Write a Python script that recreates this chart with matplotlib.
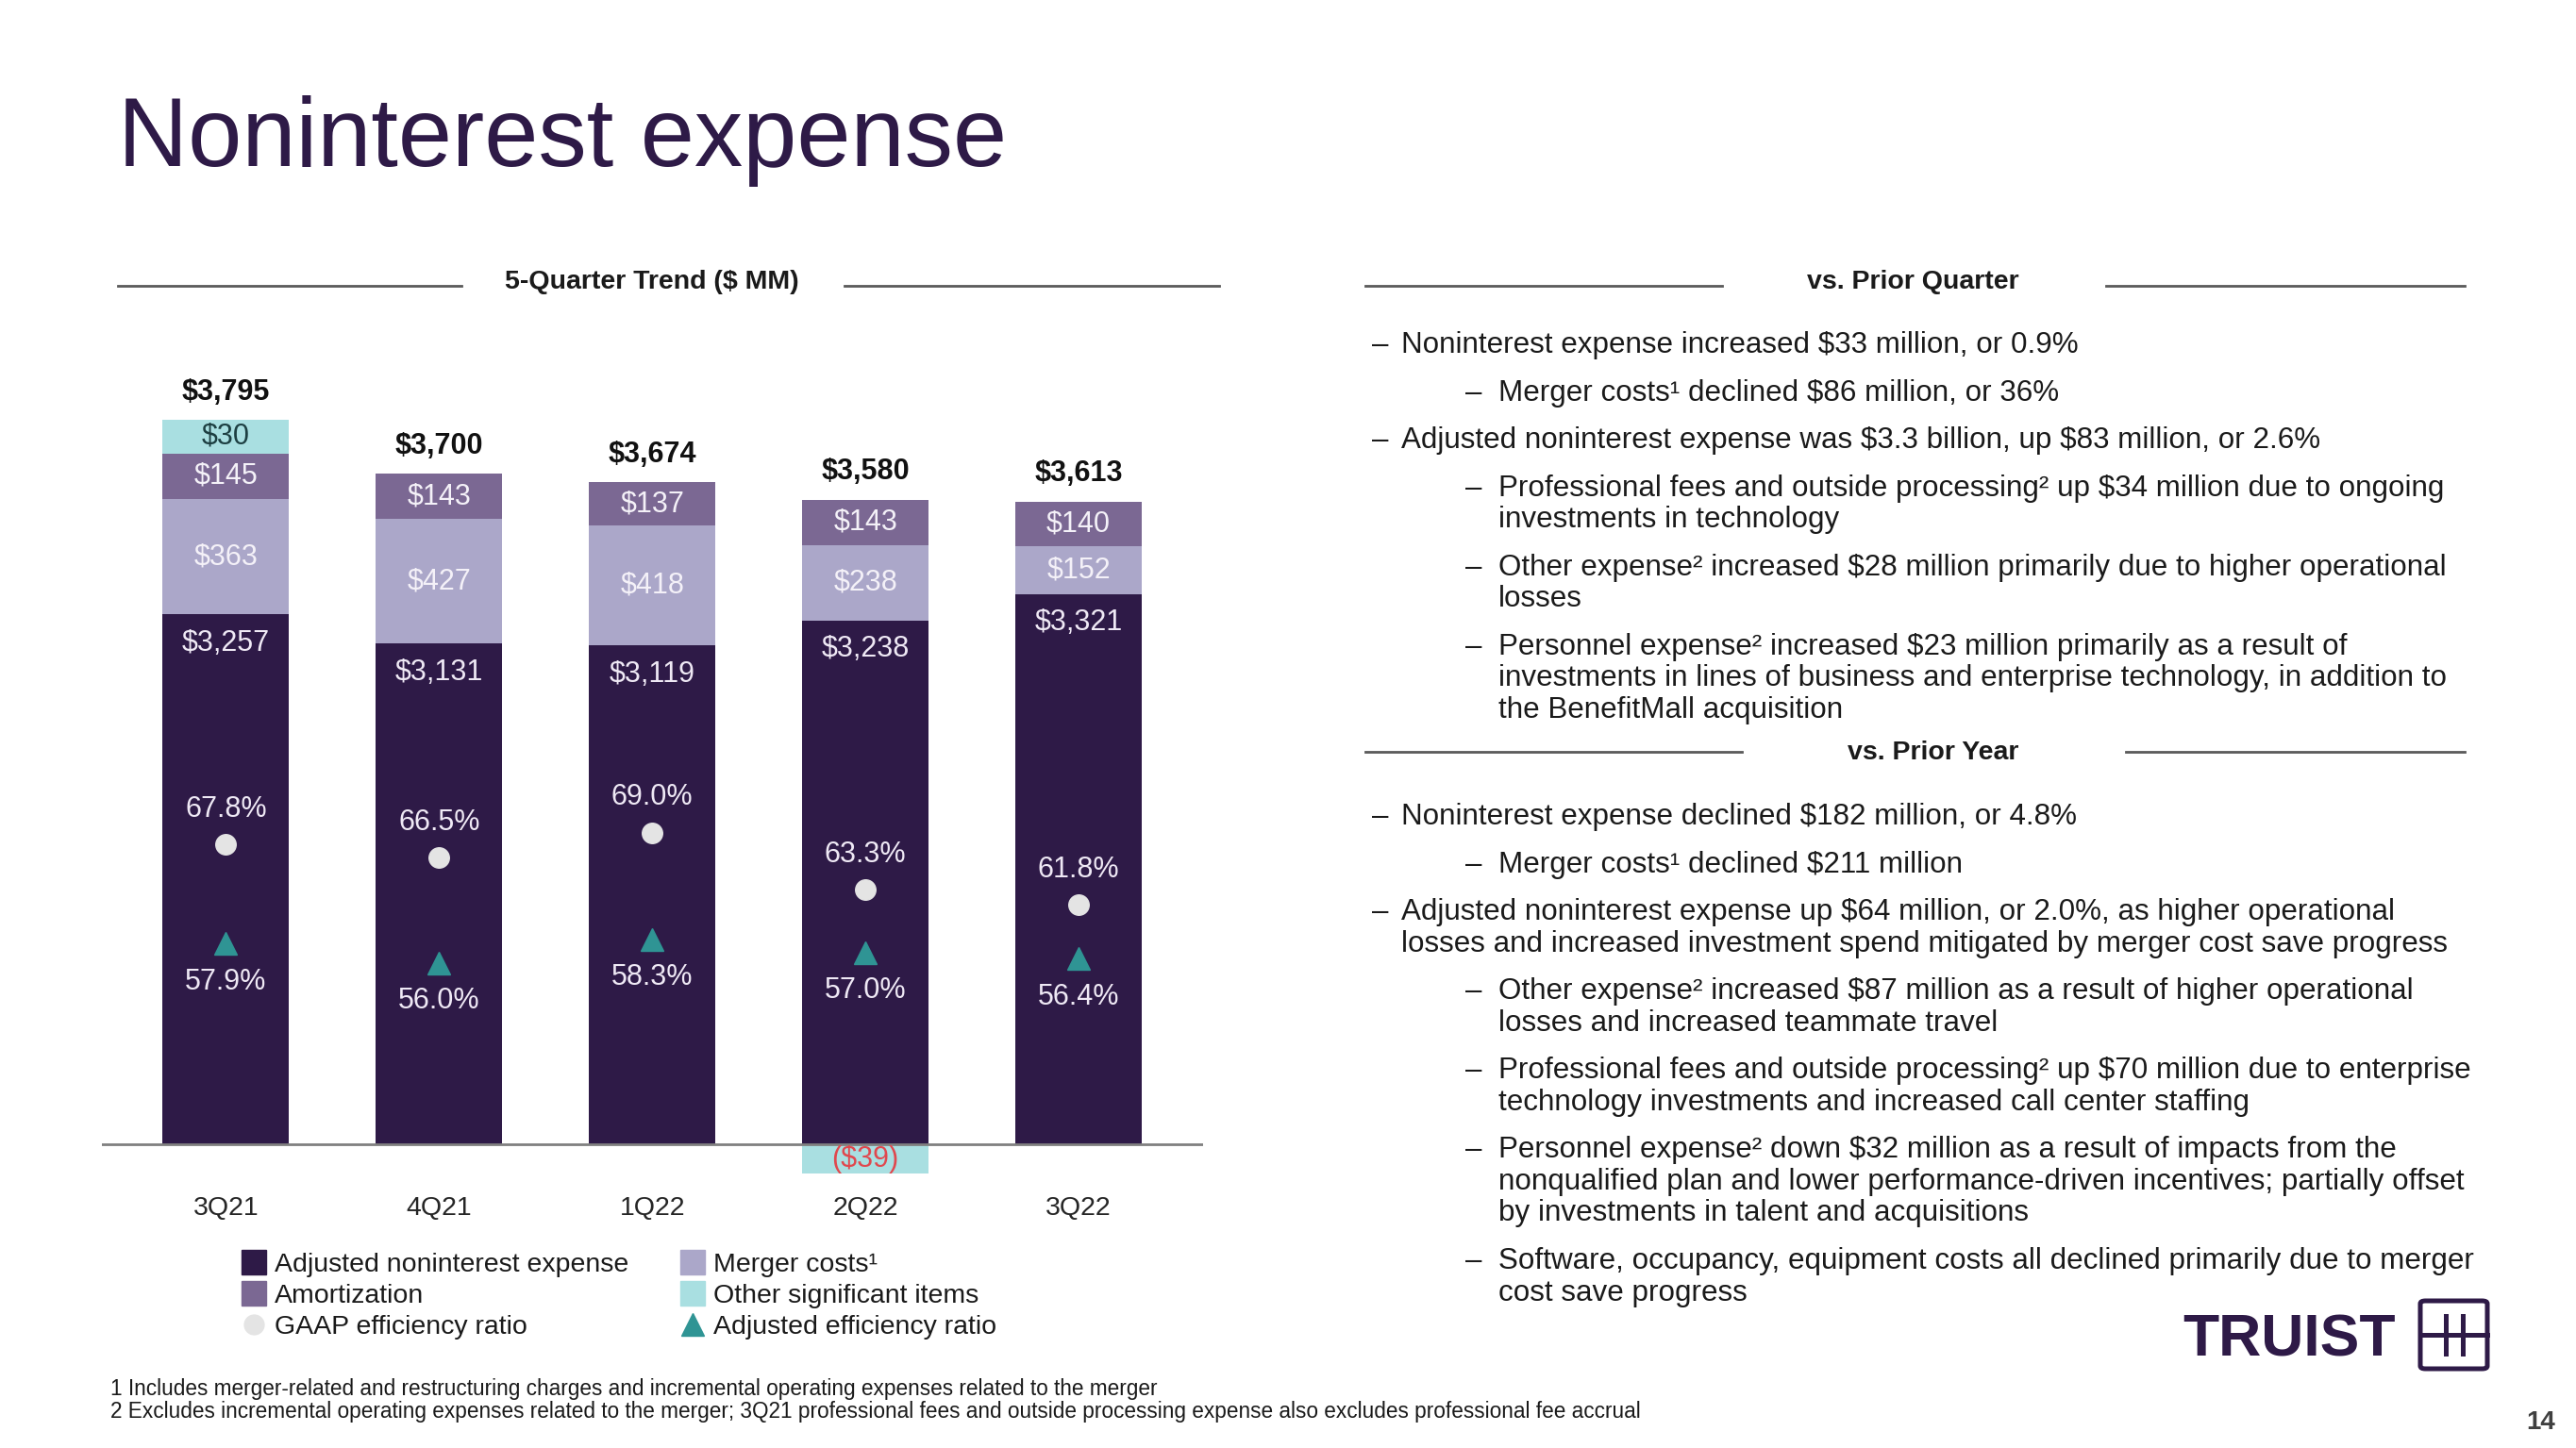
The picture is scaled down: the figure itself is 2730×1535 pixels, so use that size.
import numpy as np
import matplotlib
matplotlib.use('Agg')
import matplotlib.pyplot as plt
from matplotlib.lines import Line2D
from matplotlib.patches import FancyBboxPatch

plt.rcParams['font.family'] = ['Liberation Sans', 'DejaVu Sans']
plt.rcParams['text.parse_math'] = False

# ---- data ($ MM) ----
quarters = ['3Q21', '4Q21', '1Q22', '2Q22', '3Q22']
adjusted = [3257, 3131, 3119, 3238, 3321]
merger = [363, 427, 418, 238, 152]
amort = [145, 143, 137, 143, 140]
other = [30, 0, 0, -39, 0]
totals = [3795, 3700, 3674, 3580, 3613]
gaap_ratio = [67.8, 66.5, 69.0, 63.3, 61.8]
adj_ratio = [57.9, 56.0, 58.3, 57.0, 56.4]

prior_quarter = [
    (0, ['Noninterest expense increased $33 million, or 0.9%']),
    (1, ['Merger costs¹ declined $86 million, or 36%']),
    (0, ['Adjusted noninterest expense was $3.3 billion, up $83 million, or 2.6%']),
    (1, ['Professional fees and outside processing² up $34 million due to ongoing',
         'investments in technology']),
    (1, ['Other expense² increased $28 million primarily due to higher operational',
         'losses']),
    (1, ['Personnel expense² increased $23 million primarily as a result of',
         'investments in lines of business and enterprise technology, in addition to',
         'the BenefitMall acquisition']),
]
prior_year = [
    (0, ['Noninterest expense declined $182 million, or 4.8%']),
    (1, ['Merger costs¹ declined $211 million']),
    (0, ['Adjusted noninterest expense up $64 million, or 2.0%, as higher operational',
         'losses and increased investment spend mitigated by merger cost save progress']),
    (1, ['Other expense² increased $87 million as a result of higher operational',
         'losses and increased teammate travel']),
    (1, ['Professional fees and outside processing² up $70 million due to enterprise',
         'technology investments and increased call center staffing']),
    (1, ['Personnel expense² down $32 million as a result of impacts from the',
         'nonqualified plan and lower performance-driven incentives; partially offset',
         'by investments in talent and acquisitions']),
    (1, ['Software, occupancy, equipment costs all declined primarily due to merger',
         'cost save progress']),
]
footnotes = [
    '1 Includes merger-related and restructuring charges and incremental operating expenses related to the merger',
    '2 Excludes incremental operating expenses related to the merger; 3Q21 professional fees and outside processing expense also excludes professional fee accrual',
]

DARK = '#2e1a47'
AMORT = '#7b6893'
MERGER = '#aba7c9'
OTHER = '#a9dfe1'
GAAP = '#e4e4e4'
TEAL = '#2f9494'
TXT = '#1a1a1a'

W, H = 2730, 1535
fig = plt.figure(figsize=(W / 100, H / 100), dpi=100)


def fx(px):
    return px / W


def fy(py):
    return 1 - py / H


def hline(x0, x1, y):
    fig.add_artist(Line2D([fx(x0), fx(x1)], [fy(y), fy(y)], transform=fig.transFigure,
                          color='#5a5a5a', lw=2))


# title
fig.text(fx(125), fy(176), 'Noninterest expense', fontsize=74, color=DARK, va='baseline')

# ---- chart ----
# the slide is not drawn to scale: the adjusted bar is squeezed and the thin
# segments on top (and the negative item) are stretched -> piecewise y scale
knots_v = [-200, 0, 3200, 3765, 4200]
knots_d = [-92, 0, 312, 421, 717]


def fwd(y):
    return np.interp(y, knots_v, knots_d)


def inv(d):
    return np.interp(d, knots_d, knots_v)


ax = fig.add_axes([fx(108), fy(1262), fx(1274.5) - fx(108), fy(400.5) - fy(1262)])
ax.set_yscale('function', functions=(fwd, inv))
ax.set_ylim(inv(-28), inv(467))
ax.set_xlim(-0.582, 4.582)

x = np.arange(len(quarters))
w = 0.593
adj_a = np.array(adjusted)
mer_a = np.array(merger)
amo_a = np.array(amort)
oth_a = np.array(other)
b1 = adj_a
b2 = b1 + mer_a
b3 = b2 + amo_a
oth_bottom = np.where(oth_a > 0, b3, 0)
top = b3 + np.clip(oth_a, 0, None)

ax.bar(x, adj_a, w, color=DARK, zorder=2)
ax.bar(x, mer_a, w, bottom=b1, color=MERGER, zorder=2)
ax.bar(x, amo_a, w, bottom=b2, color=AMORT, zorder=2)
ax.bar(x, oth_a, w, bottom=oth_bottom, color=OTHER, zorder=2)
ax.axhline(0, color='#808080', lw=2, zorder=3)


def mid(lo, hi):
    return inv((fwd(lo) + fwd(hi)) / 2)


lab = dict(ha='center', va='center', fontsize=22)
for i in x:
    ax.annotate(f'${adjusted[i]:,}', (i, adjusted[i]), xytext=(0, -22),
                textcoords='offset points', color='#efe9f5', **lab)
    ax.text(i, mid(b1[i], b2[i]), f'${merger[i]:,}', color='#f4f1f8', **lab)
    ax.text(i, mid(b2[i], b3[i]), f'${amort[i]:,}', color='#f4f1f8', **lab)
    if other[i] > 0:
        ax.text(i, mid(b3[i], b3[i] + other[i]), f'${other[i]}', color='#1d3f42', **lab)
    elif other[i] < 0:
        ax.text(i, mid(other[i], 0), f'(${-other[i]})', color='#e0484e', **lab)
    ax.annotate(f'${totals[i]:,}', (i, top[i]), xytext=(0, 21), textcoords='offset points',
                color='#111111', fontweight='bold', **lab)
    ax.annotate(quarters[i], (i, 0), xytext=(0, -49), textcoords='offset points',
                ha='center', va='center', fontsize=20.5, color='#262626')

ax2 = ax.twinx()
ax2.set_ylim(33.26, 114.41)
ax2.plot(x, gaap_ratio, 'o', color=GAAP, ms=15.5, ls='none', zorder=4)
ax2.plot(x, adj_ratio, '^', color=TEAL, ms=17, ls='none', zorder=4)
for i in x:
    ax2.annotate(f'{gaap_ratio[i]:.1f}%', (i, gaap_ratio[i]), xytext=(0, 27),
                 textcoords='offset points', color='#efe9f5', **lab)
    ax2.annotate(f'{adj_ratio[i]:.1f}%', (i, adj_ratio[i]), xytext=(0, -29),
                 textcoords='offset points', color='#efe9f5', **lab)

for a in (ax, ax2):
    for s in a.spines.values():
        s.set_visible(False)
    a.set_xticks([])
    a.set_yticks([])
    a.yaxis.set_minor_locator(plt.NullLocator())

# chart header
fig.text(fx(691), fy(299), '5-Quarter Trend ($ MM)', fontsize=20.5, fontweight='bold',
         ha='center', va='center', color=TXT)
hline(125, 489, 303)
hline(895, 1292, 303)

# legend
handles = [
    Line2D([], [], marker='s', ls='none', color=DARK, ms=18.5),
    Line2D([], [], marker='s', ls='none', color=AMORT, ms=18.5),
    Line2D([], [], marker='o', ls='none', color=GAAP, ms=15),
    Line2D([], [], marker='s', ls='none', color=MERGER, ms=18.5),
    Line2D([], [], marker='s', ls='none', color=OTHER, ms=18.5),
    Line2D([], [], marker='^', ls='none', color=TEAL, ms=17),
]
labels = ['Adjusted noninterest expense', 'Amortization', 'GAAP efficiency ratio',
          'Merger costs¹', 'Other significant items', 'Adjusted efficiency ratio']
fig.legend(handles, labels, loc='upper left', bbox_to_anchor=(fx(255), fy(1328)),
           ncol=2, frameon=False, fontsize=20.5, handlelength=1.0, handletextpad=0.26,
           columnspacing=1.9, labelspacing=0.24, borderpad=0, borderaxespad=0,
           labelcolor=TXT)

# ---- right-hand commentary ----
PARA, LINE = 50.5, 33.6
DASH_X = [1454, 1553]
TEXT_X = [1485, 1588]
BODY = 22.6


def bullets(items, y0):
    y = y0
    for n, (lvl, lines) in enumerate(items):
        if n:
            y += PARA
        fig.text(fx(DASH_X[lvl]), fy(y + 10), '–', fontsize=BODY, color=TXT, va='baseline')
        for k, line in enumerate(lines):
            if k:
                y += LINE
            fig.text(fx(TEXT_X[lvl]), fy(y + 10), line, fontsize=BODY, color=TXT,
                     va='baseline')


fig.text(fx(2027), fy(299), 'vs. Prior Quarter', fontsize=20.5, fontweight='bold',
         ha='center', va='center', color=TXT)
hline(1447, 1825, 303)
hline(2232, 2612, 303)
bullets(prior_quarter, 364)

fig.text(fx(2049), fy(798), 'vs. Prior Year', fontsize=20.5, fontweight='bold',
         ha='center', va='center', color=TXT)
hline(1447, 1846, 797)
hline(2253, 2612, 797)
bullets(prior_year, 864)

# footnotes
for k, note in enumerate(footnotes):
    fig.text(fx(117), fy(1473 + 24 * k), note, fontsize=16.3, color=TXT, va='center')

# page number and logo
fig.text(fx(2693), fy(1508), '14', fontsize=20, fontweight='bold', color='#404040',
         ha='center', va='center')
fig.text(fx(2313), fy(1438), 'TRUIST', fontsize=45, fontweight='bold', color=DARK,
         va='baseline')
fig.add_artist(FancyBboxPatch((fx(2565), fy(1451)), fx(2636) - fx(2565), fy(1379) - fy(1451),
                              boxstyle='round,pad=0,rounding_size=0.002',
                              transform=fig.transFigure, fc='none', ec=DARK, lw=3.6))
for xs, ys in [([2565, 2636], [1415, 1415]), ([2592, 2592], [1395, 1435]),
               ([2610, 2610], [1395, 1435])]:
    fig.add_artist(Line2D([fx(v) for v in xs], [fy(v) for v in ys],
                          transform=fig.transFigure, color=DARK, lw=3.6))

fig.savefig('out.png', dpi=100)
